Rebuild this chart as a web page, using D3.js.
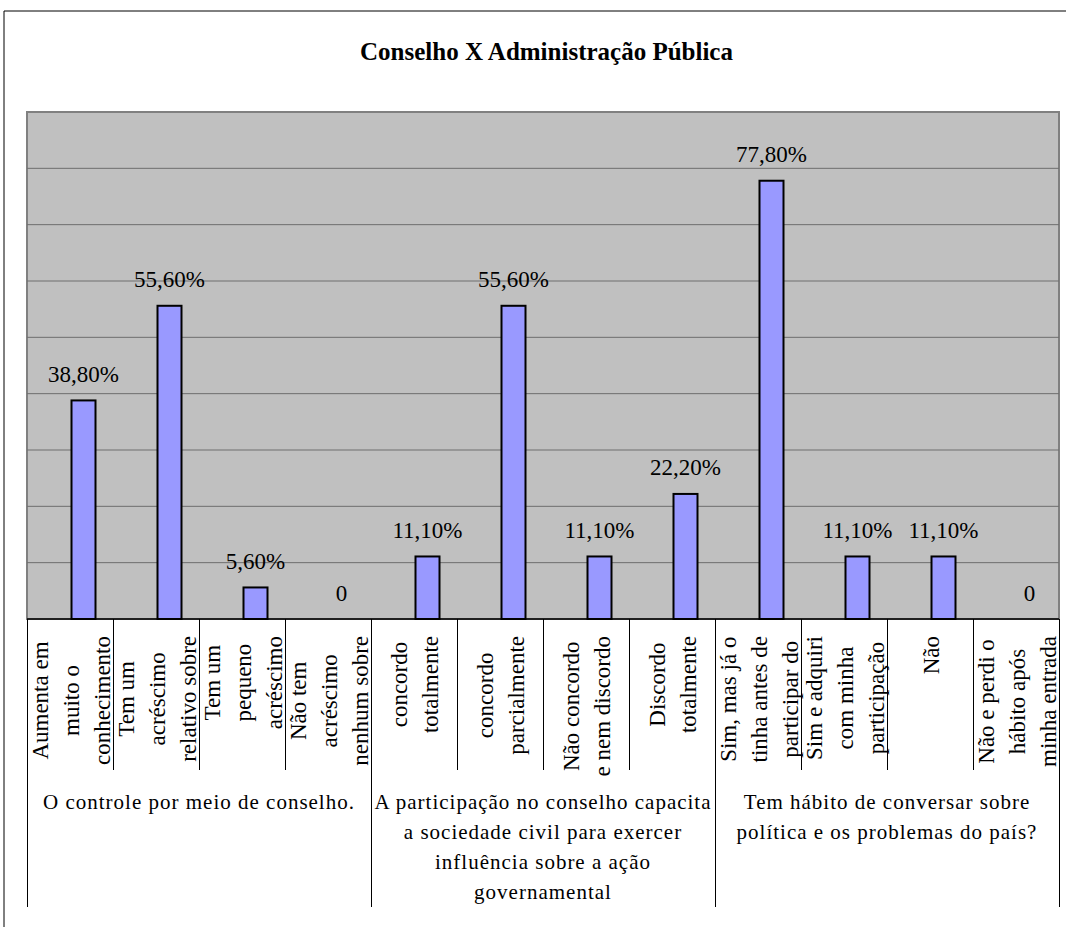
<!DOCTYPE html>
<html>
<head>
<meta charset="utf-8">
<script src="https://cdn.jsdelivr.net/npm/d3@7"></script>
<style>
  body { margin: 0; background: #ffffff; }
  text { font-family: "Liberation Serif", "Times New Roman", serif; fill: #000; }
</style>
</head>
<body>
<div id="chart"></div>
<script>
// data
const title = 'Conselho  X Administração Pública';

const categories = [
  ['Aumenta em', 'muito o', 'conhecimento'],
  ['Tem um', 'acréscimo', 'relativo sobre'],
  ['Tem um', 'pequeno', 'acréscimo'],
  ['Não tem', 'acréscimo', 'nenhum sobre'],
  ['concordo', 'totalmente'],
  ['concordo', 'parcialmente'],
  ['Não concordo', 'e nem discordo'],
  ['Discordo', 'totalmente'],
  ['Sim, mas já o', 'tinha antes de', 'participar do'],
  ['Sim e adquiri', 'com minha', 'participação'],
  ['Não'],
  ['Não e perdi o', 'hábito após', 'minha entrada']
];

const values = [38.8, 55.6, 5.6, 0, 11.1, 55.6, 11.1, 22.2, 77.8, 11.1, 11.1, 0];

const groups = [
  ['O controle por meio de conselho.'],
  ['A participação no conselho capacita', 'a sociedade civil para exercer', 'influência sobre a ação', 'governamental'],
  ['Tem hábito de conversar sobre', 'política e os problemas do país?']
];
const perGroup = 4;

const yTicks = [10, 20, 30, 40, 50, 60, 70, 80, 90];

// layout
const W = 1066, H = 927;
const plot = { left: 27, right: 1059, top: 112, bottom: 619 };

const svg = d3
  .select('#chart')
  .append('svg')
  .attr('width', W)
  .attr('height', H);

// outer frame
svg.append('path')
  .attr('d', `M4,${H} V11 H${W}`)
  .attr('fill', 'none')
  .attr('stroke', '#000')
  .attr('stroke-width', 1);

// title
svg.append('text')
  .attr('x', 546.5)
  .attr('y', 60)
  .attr('text-anchor', 'middle')
  .style('font-weight', 'bold')
  .style('font-size', '25px')
  .text(title);

const x = d3.scaleBand()
  .domain(d3.range(values.length))
  .range([plot.left, plot.right])
  .padding(0);

const y = d3.scaleLinear()
  .domain([0, 90])
  .range([plot.bottom, plot.top]);

// plot area
svg.append('rect')
  .attr('x', plot.left)
  .attr('y', plot.top)
  .attr('width', plot.right - plot.left)
  .attr('height', plot.bottom - plot.top)
  .attr('fill', '#c0c0c0')
  .attr('stroke', '#808080')
  .attr('stroke-width', 2);

// gridlines
svg.append('g')
  .selectAll('line')
  .data(yTicks.slice(0, -1))
  .join('line')
  .attr('x1', plot.left)
  .attr('x2', plot.right)
  .attr('y1', d => y(d))
  .attr('y2', d => y(d))
  .attr('stroke', '#6e6e6e')
  .attr('stroke-width', 1);

// bars (drawn to the right of the slot centre, like the original)
const barW = 24;
const barX = i => x(i) + x.bandwidth() / 2 + 1.5;

svg.append('g')
  .selectAll('rect')
  .data(values.map((v, i) => ({ v, i })).filter(d => d.v > 0))
  .join('rect')
  .attr('x', d => barX(d.i))
  .attr('y', d => y(d.v))
  .attr('width', barW)
  .attr('height', d => y(0) - y(d.v))
  .attr('fill', '#9999ff')
  .attr('stroke', '#000')
  .attr('stroke-width', 2);

// value labels
const fmt = v => (v === 0 ? '0' : v.toFixed(2).replace('.', ',') + '%');
svg.append('g')
  .selectAll('text')
  .data(values)
  .join('text')
  .attr('x', (d, i) => barX(i) + barW / 2)
  .attr('y', d => y(d) - 18.5)
  .attr('text-anchor', 'middle')
  .style('font-size', '23px')
  .text(fmt);

// x axis line
svg.append('line')
  .attr('x1', plot.left)
  .attr('x2', plot.right)
  .attr('y1', plot.bottom)
  .attr('y2', plot.bottom)
  .attr('stroke', '#000')
  .attr('stroke-width', 1.5);

// category separators, longer ones between groups
svg.append('g')
  .selectAll('line')
  .data(d3.range(values.length + 1))
  .join('line')
  .attr('x1', i => Math.round(plot.left + i * x.bandwidth()) + 0.5)
  .attr('x2', i => Math.round(plot.left + i * x.bandwidth()) + 0.5)
  .attr('y1', plot.bottom)
  .attr('y2', i => (i % perGroup === 0 ? 907 : 770))
  .attr('stroke', '#000')
  .attr('stroke-width', 1);

// rotated category labels
const catG = svg.append('g');
categories.forEach((lines, i) => {
  const cx = x(i) + x.bandwidth() / 2;
  const texts = catG.append('g')
    .selectAll('text')
    .data(lines)
    .join('text')
    .attr('text-anchor', 'middle')
    .style('font-size', '23px')
    .text(d => d);
  const maxLen = d3.max(texts.nodes(), n => n.getComputedTextLength());
  const cy = 636 + maxLen / 2;
  texts.attr('transform', (d, j) =>
    `translate(${cx + 8.5 + (j - (lines.length - 1) / 2) * 31},${cy}) rotate(-90)`);
});

// group labels
groups.forEach((lines, g) => {
  const cx = plot.left + (g + 0.5) * perGroup * x.bandwidth();
  svg.append('g')
    .selectAll('text')
    .data(lines)
    .join('text')
    .attr('x', cx)
    .attr('y', (d, j) => 809 + j * 30)
    .attr('text-anchor', 'middle')
    .style('font-size', '21px')
    .style('letter-spacing', '1px')
    .text(d => d);
});
</script>
</body>
</html>
